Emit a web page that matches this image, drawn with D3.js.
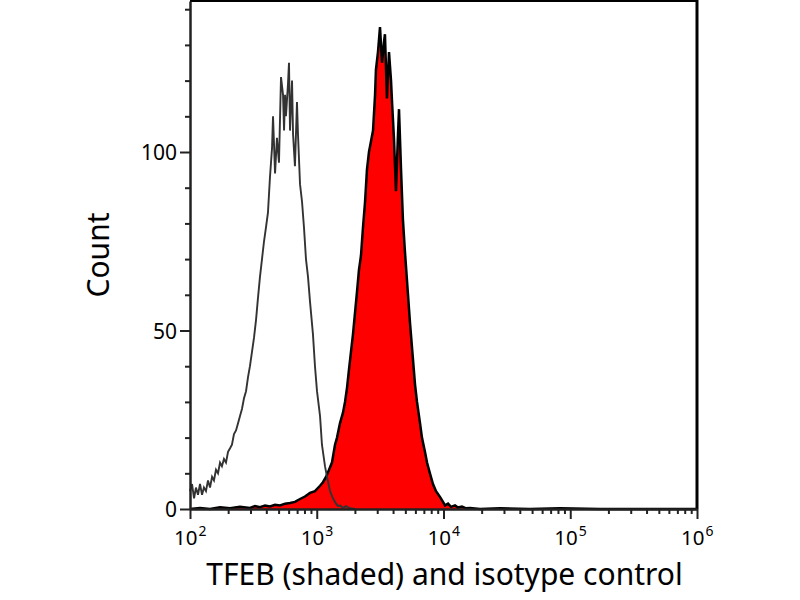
<!DOCTYPE html>
<html>
<head>
<meta charset="utf-8">
<script src="https://cdn.jsdelivr.net/npm/d3@7"></script>
<style>
  html, body { margin: 0; padding: 0; background: #fff; }
  svg { display: block; }
  text { font-family: "Noto Sans", "Open Sans", sans-serif; fill: #000; }
</style>
</head>
<body>
<svg id="chart" width="800" height="600"></svg>
<script>
// ---- data (log10 fluorescence position, count) ----
const isotypeLog = [2.000,2.016,2.032,2.047,2.063,2.079,2.095,2.110,2.126,2.142,2.158,2.174,2.189,2.205,2.221,2.237,2.252,2.268,2.284,2.300,2.316,2.331,2.347,2.363,2.379,2.394,2.410,2.426,2.442,2.458,2.473,2.489,2.505,2.521,2.536,2.552,2.568,2.584,2.600,2.615,2.631,2.647,2.655,2.671,2.686,2.702,2.718,2.734,2.742,2.750,2.757,2.773,2.781,2.789,2.805,2.813,2.828,2.844,2.852,2.868,2.884,2.899,2.915,2.931,2.947,2.970,2.986,3.002,3.026,3.041,3.065,3.081,3.105,3.128,3.152,3.168,3.183,3.207,3.231,3.262,3.302];
const isotypeCount = [5,7,3,6,4,7,4,6,5,8,6,9,8,11,10,13,12,14,13,16,17,18,21,22,24,26,28,31,33,37,40,44,48,53,59,65,70,75,79,83,93,101,110,94,104,97,121,116,106,116,110,119,125,106,120,105,96,114,105,91,86,79,70,65,58,49,40,33,26,18,12,9,5,3,1.5,0.8,1,0.3,0.8,0.2,0];

const tfebLog = [2.000,2.079,2.158,2.237,2.316,2.394,2.473,2.513,2.552,2.592,2.631,2.671,2.710,2.750,2.789,2.828,2.868,2.907,2.947,2.986,3.026,3.049,3.073,3.097,3.120,3.144,3.160,3.183,3.207,3.223,3.239,3.254,3.270,3.286,3.302,3.318,3.333,3.349,3.365,3.381,3.396,3.412,3.428,3.444,3.460,3.467,3.483,3.499,3.515,3.531,3.538,3.554,3.570,3.586,3.594,3.609,3.625,3.641,3.649,3.665,3.680,3.696,3.712,3.720,3.736,3.759,3.775,3.791,3.815,3.830,3.854,3.870,3.893,3.917,3.941,3.972,3.996,4.012,4.036,4.059,4.091,4.114,4.146,4.178,4.209,4.288,4.446,4.682,4.919,5.235,6.000];
const tfebCount = [0,0.3,0,0.5,0.2,0.6,0.3,0.8,0.5,1,0.7,1.2,1,1.5,1.7,2,2.8,3.5,4.5,5,6.5,7.5,9,11,13,18,20,24,27,30,34,39,44,49,55,61,67,71,79,86,95,100,103,106,116,123,128,135,125,131,133,115,128,120,114,104,89,105,112,95,81,72,64,60,52,42,35,30,24,20,16,13,10,7,5,3.4,2,1,1.5,0.6,1,0.4,0.7,0.2,0.3,0,0.2,0,0.2,0,0];

const yTickValues = [0, 50, 100];
const yMinorValues = [10,20,30,40,60,70,80,90,110,120,130,140];
const xTickExponents = [2, 3, 4, 5, 6];
const xAxisLabel = "TFEB (shaded) and isotype control";
const yAxisLabel = "Count";

// ---- layout ----
const mLeft = 190, mRight = 697, mTop = 1, mBottom = 509;
const svg = d3.select("#chart");

const x = d3.scaleLog().domain([1e2, 1e6]).range([mLeft, mRight]);
const y = d3.scaleLinear().domain([0, 142.3]).range([mBottom, mTop]);

const isotype = isotypeLog.map((l, i) => ({ v: Math.pow(10, l), c: isotypeCount[i] }));
const tfeb = tfebLog.map((l, i) => ({ v: Math.pow(10, l), c: tfebCount[i] }));

// red filled histogram
svg.append("path")
  .datum(tfeb)
  .attr("d", d3.area().x(d => x(d.v)).y0(y(0)).y1(d => y(d.c)))
  .attr("fill", "#ff0000")
  .attr("stroke", "none");
svg.append("path")
  .datum(tfeb)
  .attr("d", d3.line().x(d => x(d.v)).y(d => y(d.c)))
  .attr("fill", "none")
  .attr("stroke", "#000")
  .attr("stroke-width", 2.5)
  .attr("stroke-linejoin", "miter");

// isotype control outline
svg.append("path")
  .datum(isotype)
  .attr("d", d3.line().x(d => x(d.v)).y(d => y(d.c)))
  .attr("fill", "none")
  .attr("stroke", "#333")
  .attr("stroke-width", 1.9)
  .attr("stroke-linejoin", "miter");

// frame: top and right
svg.append("line").attr("x1", mLeft).attr("x2", mRight + 1).attr("y1", mTop).attr("y2", mTop)
  .attr("stroke", "#000").attr("stroke-width", 2);
svg.append("line").attr("x1", mRight).attr("x2", mRight).attr("y1", 0).attr("y2", mBottom)
  .attr("stroke", "#000").attr("stroke-width", 3);

// y axis
const yAxis = svg.append("g").attr("transform", `translate(${mLeft},0)`)
  .call(d3.axisLeft(y).tickValues(yTickValues).tickSize(10).tickSizeOuter(0).tickFormat(d3.format("d")));
yAxis.select(".domain").attr("stroke", "#222").attr("stroke-width", 2.5);
yAxis.selectAll(".tick line").attr("stroke", "#222").attr("stroke-width", 2);
yAxis.selectAll(".tick text").attr("font-size", 21).attr("font-family", "Noto Sans").attr("x", -13).attr("dy", "0.36em").attr("fill", "#000");
const yMinor = svg.append("g").attr("transform", `translate(${mLeft},0)`)
  .call(d3.axisLeft(y).tickValues(yMinorValues).tickSize(5).tickSizeOuter(0).tickFormat(""));
yMinor.select(".domain").remove();
yMinor.selectAll(".tick text").remove();
yMinor.selectAll(".tick line").attr("stroke", "#222").attr("stroke-width", 2);

// x axis
const xMajor = xTickExponents.map(e => Math.pow(10, e));
const xMinor = [];
xTickExponents.slice(0, -1).forEach(e => { for (let k = 2; k <= 9; k++) xMinor.push(k * Math.pow(10, e)); });
const xAxis = svg.append("g").attr("transform", `translate(0,${mBottom})`)
  .call(d3.axisBottom(x).tickValues(xMajor).tickSize(10).tickSizeOuter(0).tickFormat(""));
xAxis.select(".domain").attr("stroke", "#222").attr("stroke-width", 2.5);
xAxis.selectAll(".tick text").remove();
xAxis.selectAll(".tick line").attr("stroke", "#222").attr("stroke-width", 2);
const xMinorG = svg.append("g").attr("transform", `translate(0,${mBottom})`)
  .call(d3.axisBottom(x).tickValues(xMinor).tickSize(5).tickSizeOuter(0).tickFormat(""));
xMinorG.select(".domain").remove();
xMinorG.selectAll(".tick text").remove();
xMinorG.selectAll(".tick line").attr("stroke", "#222").attr("stroke-width", 2);

// x tick labels: base "10" and exponent as separate texts
xAxis.selectAll(".tick").each(function (d) {
  const e = Math.round(Math.log10(d));
  const g = d3.select(this);
  g.append("text")
    .attr("x", 7).attr("y", 36)
    .attr("text-anchor", "end")
    .attr("font-size", 20.5)
    .attr("fill", "#000")
    .text("10");
  g.append("text")
    .attr("x", 8).attr("y", 27)
    .attr("text-anchor", "start")
    .attr("font-size", 14)
    .attr("fill", "#000")
    .text(String(e));
});

// axis titles
svg.append("text")
  .attr("x", 198 + 493 / 2).attr("y", 585)
  .attr("text-anchor", "middle")
  .attr("font-size", 30)
  .text(xAxisLabel);
svg.append("text")
  .attr("transform", "translate(109,255) rotate(-90)")
  .attr("text-anchor", "middle")
  .attr("font-size", 30)
  .text(yAxisLabel);
</script>
</body>
</html>
